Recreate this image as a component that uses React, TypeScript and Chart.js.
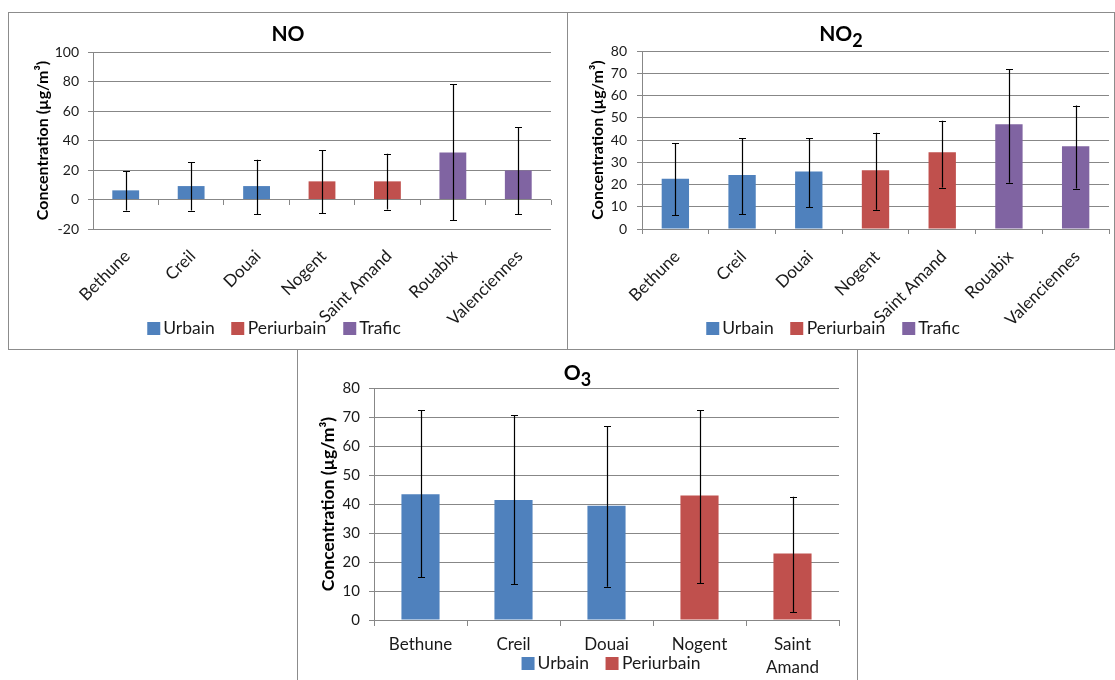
import React, { useEffect, useRef } from 'react';
import { Chart, registerables } from 'chart.js';

Chart.register(...registerables);

const FONT = 'Lato, "Noto Sans", sans-serif';
const GRID = '#878787';
const TEXT = '#1a1a1a';
const Y_TITLE = 'Concentration (µg/m³)';

const LEGEND_TYPES = ['Urbain', 'Periurbain', 'Trafic'];
const TYPE_COLORS: Record<string, string> = { Urbain: '#4F81BD', Periurbain: '#C0504D', Trafic: '#8064A2' };

// NO
const NO_SITES = ['Bethune', 'Creil', 'Douai', 'Nogent', 'Saint Amand', 'Rouabix', 'Valenciennes'];
const NO_TYPES = ['Urbain', 'Urbain', 'Urbain', 'Periurbain', 'Periurbain', 'Trafic', 'Trafic'];
const NO_MEAN = [6.2, 9.1, 9.1, 12.3, 12.3, 31.9, 19.7];
const NO_LOW = [-7.5, -7.5, -10, -9.3, -6.8, -14.2, -9.9];
const NO_HIGH = [19.3, 25.3, 27, 33.4, 31, 78.2, 49.2];
const NO_Y_RANGE = [-20, 100];
const NO_Y_STEP = 20;

// NO2
const NO2_SITES = ['Bethune', 'Creil', 'Douai', 'Nogent', 'Saint Amand', 'Rouabix', 'Valenciennes'];
const NO2_TYPES = ['Urbain', 'Urbain', 'Urbain', 'Periurbain', 'Periurbain', 'Trafic', 'Trafic'];
const NO2_MEAN = [22.6, 24.3, 25.8, 26.4, 34.5, 47.1, 37.2];
const NO2_LOW = [6.2, 6.6, 9.8, 8.7, 18.6, 20.8, 18.2];
const NO2_HIGH = [38.7, 40.9, 40.9, 43.3, 48.7, 71.8, 55.5];
const NO2_Y_RANGE = [0, 80];
const NO2_Y_STEP = 10;

// O3
const O3_SITES: (string | string[])[] = ['Bethune', 'Creil', 'Douai', 'Nogent', ['Saint', 'Amand']];
const O3_TYPES = ['Urbain', 'Urbain', 'Urbain', 'Periurbain', 'Periurbain'];
const O3_MEAN = [43.4, 41.4, 39.4, 42.9, 22.9];
const O3_LOW = [14.7, 12.4, 11.5, 12.6, 2.6];
const O3_HIGH = [72.3, 70.7, 66.8, 72.3, 42.5];
const O3_Y_RANGE = [0, 80];
const O3_Y_STEP = 10;

type PanelProps = {
  sites: (string | string[])[];
  types: string[];
  mean: number[];
  low: number[];
  high: number[];
  yRange: number[];
  yStep: number;
  left: number;
  top: number;
  width: number;
  height: number;
  pad: { left: number; top: number; right: number; bottom: number };
  yAxisWidth: number;
  yTitlePad: number;
  yTitleSize: number;
  yTickPad: number;
  yTickSize: number;
  xAxisHeight: number;
  xTickLen: number;
  xTickPad: number;
  rotate: boolean;
  labelOffset: number;
  zeroAxis: boolean;
};

function Panel(p: PanelProps) {
  const ref = useRef<HTMLCanvasElement>(null);
  useEffect(() => {
    if (!ref.current) return;
    const present = LEGEND_TYPES.filter((t) => p.types.includes(t));
    const datasets = present.map((t) => ({
      label: t,
      data: p.mean.map((v, i) => (p.types[i] === t ? v : null)),
      backgroundColor: TYPE_COLORS[t],
      borderWidth: 0,
      grouped: false,
      barPercentage: 0.41,
      categoryPercentage: 1,
    }));

    const errorBars = {
      id: 'errorBars',
      afterDatasetsDraw(chart: any) {
        const ctx = chart.ctx;
        const yScale = chart.scales.y;
        ctx.save();
        ctx.strokeStyle = '#000';
        ctx.lineWidth = 1.2;
        chart.data.datasets.forEach((ds: any, di: number) => {
          const meta = chart.getDatasetMeta(di);
          meta.data.forEach((bar: any, i: number) => {
            if (ds.data[i] == null) return;
            const x = Math.round(bar.x) + 0.5;
            const yl = yScale.getPixelForValue(p.low[i]);
            const yh = yScale.getPixelForValue(p.high[i]);
            ctx.beginPath();
            ctx.moveTo(x, yl);
            ctx.lineTo(x, yh);
            ctx.moveTo(x - 3.5, Math.round(yh) + 0.5);
            ctx.lineTo(x + 3.5, Math.round(yh) + 0.5);
            ctx.moveTo(x - 3.5, Math.round(yl) + 0.5);
            ctx.lineTo(x + 3.5, Math.round(yl) + 0.5);
            ctx.stroke();
          });
        });
        ctx.restore();
      },
    };

    const scales: any = {
      x: {
        type: 'category',
        offset: true,
        grid: p.zeroAxis
          ? { display: false, drawTicks: false }
          : { display: true, drawOnChartArea: false, drawTicks: true, tickLength: p.xTickLen, color: GRID, offset: true },
        border: { display: !p.zeroAxis, color: GRID },
        ticks: {
          autoSkip: false,
          maxRotation: p.rotate ? 45 : 0,
          minRotation: p.rotate ? 45 : 0,
          padding: p.xTickPad,
          labelOffset: p.labelOffset,
          color: TEXT,
          font: { family: FONT, size: 17, lineHeight: p.rotate ? 1.2 : 1.35 },
        },
        afterFit: (s: any) => {
          s.height = p.xAxisHeight;
        },
      },
      y: {
        min: p.yRange[0],
        max: p.yRange[1],
        ticks: { stepSize: p.yStep, padding: p.yTickPad, color: TEXT, font: { family: FONT, size: p.yTickSize } },
        grid: { color: GRID, drawTicks: true, tickLength: 5 },
        border: { display: true, color: GRID },
        title: {
          display: true,
          text: Y_TITLE,
          color: '#000',
          font: { family: FONT, size: p.yTitleSize, weight: 'bold' },
          padding: { top: p.yTitlePad, bottom: 0 },
        },
        afterFit: (s: any) => {
          s.width = p.yAxisWidth;
        },
      },
    };
    if (p.zeroAxis) {
      scales.x0 = {
        type: 'category',
        position: { y: 0 },
        offset: true,
        grid: { display: true, drawOnChartArea: false, drawTicks: true, tickLength: 5, color: GRID, offset: true },
        border: { display: false },
        ticks: { display: false },
      };
    }

    const chart = new Chart(ref.current, {
      type: 'bar',
      data: { labels: p.sites as any, datasets: datasets as any },
      options: {
        animation: false,
        responsive: false,
        devicePixelRatio: 1,
        layout: { padding: p.pad },
        scales,
        plugins: {
          tooltip: { enabled: false },
          title: { display: false },
          legend: { display: false },
        },
      } as any,
      plugins: [errorBars as any],
    });
    return () => chart.destroy();
  }, []);

  return (
    <canvas
      ref={ref}
      width={p.width}
      height={p.height}
      style={{ position: 'absolute', left: p.left, top: p.top, width: p.width, height: p.height }}
    />
  );
}

function Legend({ types, centerX, top }: { types: string[]; centerX: number; top: number }) {
  const present = LEGEND_TYPES.filter((t) => types.includes(t));
  return (
    <div
      style={{
        position: 'absolute',
        left: centerX,
        top,
        transform: 'translateX(-50%)',
        display: 'flex',
        alignItems: 'center',
        whiteSpace: 'nowrap',
        fontFamily: FONT,
        fontSize: 17.5,
        lineHeight: '20px',
        color: TEXT,
      }}
    >
      {present.map((t, i) => (
        <div key={t} style={{ display: 'flex', alignItems: 'center', marginLeft: i ? 17 : 0 }}>
          <span style={{ display: 'inline-block', width: 13, height: 13, background: TYPE_COLORS[t], marginRight: 3, marginTop: 1 }} />
          <span>{t}</span>
        </div>
      ))}
    </div>
  );
}

const frameStyle = (left: number, top: number, width: number, height: number): React.CSSProperties => ({
  position: 'absolute',
  left,
  top,
  width,
  height,
  boxSizing: 'border-box',
  border: '1px solid #8c8c8c',
  background: '#fff',
});

const titleStyle = (left: number, top: number, width: number): React.CSSProperties => ({
  position: 'absolute',
  left,
  top,
  width,
  textAlign: 'center',
  fontFamily: FONT,
  fontWeight: 'bold',
  fontSize: 21,
  lineHeight: '21px',
  color: '#000',
});

const subStyle: React.CSSProperties = { fontSize: 18, position: 'relative', top: 6 };

export default function App() {
  return (
    <div
      style={{
        position: 'fixed',
        left: 0,
        top: 0,
        width: 1115,
        height: 680,
        overflow: 'hidden',
        background: '#fff',
      }}
    >
      <div style={frameStyle(8, 12, 560, 338)} />
      <div style={frameStyle(567, 12, 548, 338)} />
      <div style={frameStyle(297, 349, 561, 345)} />

      <Panel
        sites={NO_SITES}
        types={NO_TYPES}
        mean={NO_MEAN}
        low={NO_LOW}
        high={NO_HIGH}
        yRange={NO_Y_RANGE}
        yStep={NO_Y_STEP}
        left={9}
        top={13}
        width={558}
        height={336}
        pad={{ left: 0, top: 39, right: 16, bottom: 0 }}
        yAxisWidth={84}
        yTitlePad={24}
        yTitleSize={16}
        yTickPad={9}
        yTickSize={14}
        xAxisHeight={120}
        xTickLen={0}
        xTickPad={17}
        rotate={true}
        labelOffset={1.5}
        zeroAxis={true}
      />
      <Panel
        sites={NO2_SITES}
        types={NO2_TYPES}
        mean={NO2_MEAN}
        low={NO2_LOW}
        high={NO2_HIGH}
        yRange={NO2_Y_RANGE}
        yStep={NO2_Y_STEP}
        left={568}
        top={13}
        width={546}
        height={336}
        pad={{ left: 0, top: 38, right: 5, bottom: 0 }}
        yAxisWidth={74}
        yTitlePad={20}
        yTitleSize={16}
        yTickPad={10}
        yTickSize={14}
        xAxisHeight={120}
        xTickLen={5}
        xTickPad={12.5}
        rotate={true}
        labelOffset={1.5}
        zeroAxis={false}
      />
      <Panel
        sites={O3_SITES}
        types={O3_TYPES}
        mean={O3_MEAN}
        low={O3_LOW}
        high={O3_HIGH}
        yRange={O3_Y_RANGE}
        yStep={O3_Y_STEP}
        left={298}
        top={350}
        width={559}
        height={330}
        pad={{ left: 0, top: 38, right: 18, bottom: 0 }}
        yAxisWidth={76}
        yTitlePad={20}
        yTitleSize={17.5}
        yTickPad={9}
        yTickSize={15}
        xAxisHeight={60}
        xTickLen={6}
        xTickPad={7}
        rotate={false}
        labelOffset={0}
        zeroAxis={false}
      />

      <Legend types={NO_TYPES} centerX={274} top={318} />
      <Legend types={NO2_TYPES} centerX={833} top={318} />
      <Legend types={O3_TYPES} centerX={611} top={653} />

      <div style={titleStyle(8, 22, 560)}>NO</div>
      <div style={titleStyle(567, 22, 548)}>
        NO<span style={subStyle}>2</span>
      </div>
      <div style={titleStyle(297, 361, 561)}>
        O<span style={subStyle}>3</span>
      </div>
    </div>
  );
}
